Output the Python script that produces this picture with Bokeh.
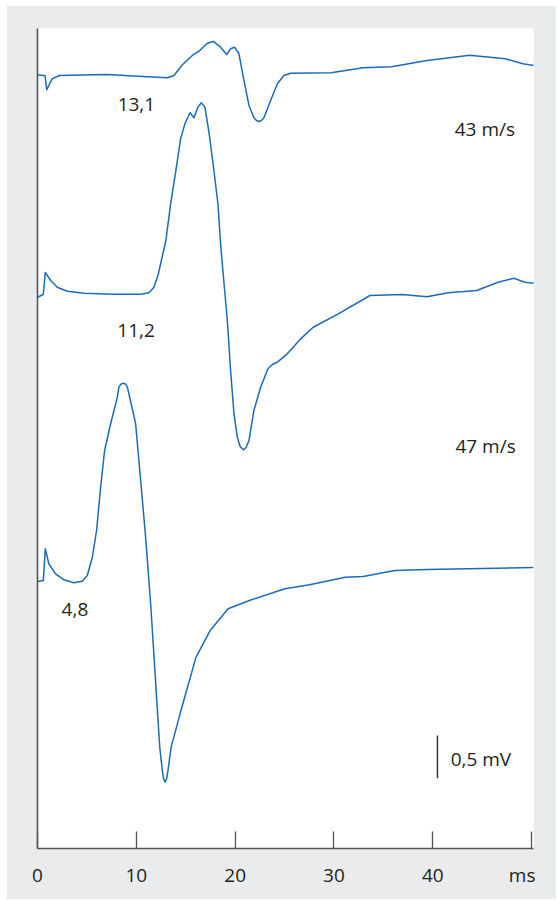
from bokeh.plotting import figure
from bokeh.models import Range1d, FixedTicker, ColumnDataSource, Spacer
from bokeh.layouts import row, column
from bokeh.core.properties import value
from bokeh.embed import file_html
from bokeh.resources import INLINE

# ---- data (time in ms, displayed amplitude in mV incl. trace offset) ----
t1 = [0.0, 0.76, 0.94, 1.48, 2.2, 7.05, 10.64, 13.14, 13.81, 14.66, 15.67, 16.34, 17.19, 17.79,
      18.53, 19.14, 19.54, 19.95, 20.38, 20.89, 21.40, 21.90, 22.16, 22.41, 22.66, 22.91, 23.59,
      24.27, 24.94, 25.62, 29.71, 32.94, 35.82, 39.41, 43.73, 47.32, 49.12, 50.74]
v1 = [9.07, 9.06, 8.895, 9.023, 9.062, 9.074, 9.05, 9.035, 9.062, 9.188, 9.297, 9.347, 9.441, 9.461,
      9.394, 9.308, 9.375, 9.394, 9.317, 9.004, 8.711, 8.566, 8.535, 8.523, 8.535, 8.566, 8.769,
      8.965, 9.062, 9.089, 9.094, 9.153, 9.164, 9.238, 9.30, 9.258, 9.20, 9.171]

t2 = [0.0, 0.59, 0.79, 1.33, 2.0, 3.02, 4.70, 7.73, 10.44, 11.28, 11.78, 12.19, 12.46, 12.99, 13.47,
      13.98, 14.48, 14.92, 15.43, 15.83, 16.23, 16.58, 16.94, 17.35, 17.79, 18.26, 18.55, 19.21,
      19.54, 19.88, 20.22, 20.50, 20.83, 21.11, 21.40, 21.90, 22.58, 23.32, 23.77, 24.27, 25.28,
      26.63, 27.90, 30.43, 33.65, 36.89, 39.41, 41.57, 44.44, 46.60, 48.22, 49.30, 50.49]
v2 = [6.463, 6.495, 6.753, 6.659, 6.58, 6.533, 6.51, 6.498, 6.498, 6.515, 6.58, 6.717, 6.855, 7.128,
      7.558, 7.929, 8.32, 8.496, 8.625, 8.566, 8.691, 8.742, 8.691, 8.398, 8.007, 7.558, 7.049, 6.19,
      5.604, 5.096, 4.822, 4.713, 4.674, 4.701, 4.783, 5.135, 5.408, 5.624, 5.674, 5.701, 5.799,
      5.975, 6.111, 6.268, 6.483, 6.495, 6.468, 6.515, 6.542, 6.639, 6.686, 6.639, 6.624]

t3 = [0.0, 0.59, 0.79, 1.15, 1.83, 2.67, 3.68, 4.53, 5.04, 5.55, 5.98, 6.39, 6.79, 7.40, 8.08, 8.24,
      8.46, 8.68, 8.90, 9.09, 9.25, 9.93, 10.44, 10.94, 11.45, 11.73, 12.37, 12.63, 12.76, 12.91,
      13.07, 13.20, 13.52, 14.61, 16.04, 17.48, 19.28, 21.44, 25.03, 27.54, 31.14, 32.94, 36.17,
      39.41, 50.19]
v3 = [3.13, 3.142, 3.513, 3.338, 3.22, 3.15, 3.115, 3.134, 3.20, 3.415, 3.728, 4.236, 4.666, 4.979,
      5.291, 5.408, 5.446, 5.455, 5.446, 5.408, 5.331, 4.979, 4.314, 3.65, 2.869, 2.36, 1.188, 0.914,
      0.82, 0.777, 0.82, 0.914, 1.188, 1.656, 2.243, 2.556, 2.81, 2.907, 3.045, 3.091, 3.181, 3.189,
      3.259, 3.271, 3.294]

latency_labels = ["13,1", "11,2", "4,8"]
latency_x = [8.11, 8.08, 2.44]
latency_y = [8.722, 6.069, 2.799]

velocity_labels = ["43 m/s", "47 m/s"]
velocity_x = [42.22, 42.29]
velocity_y = [8.433, 4.721]

scale_label = ["0,5 mV"]
scale_x = [41.81]
scale_y = [1.047]
scale_bar_x = [40.47]
scale_bar_y0 = [0.824]
scale_bar_y1 = [1.325]

x_ticks = [0, 10, 20, 30, 40, 50]
x_unit = "ms"

# ---- styling ----
BLUE = "#1a6bb8"
GREY_BG = "#eaebed"
AXIS = "#555555"
TXT = "#231f20"
FONT = "Open Sans"
FS = "19px"

p = figure(width=550, height=894, x_range=Range1d(0, 50.19), y_range=Range1d(0, 9.613),
           output_backend="svg", toolbar_location=None,
           min_border_left=31, min_border_right=23, min_border_top=23, min_border_bottom=51,
           background_fill_color="white", border_fill_color=GREY_BG, outline_line_color=None)
p.xgrid.visible = False
p.ygrid.visible = False

xa = p.xaxis[0]
xa.ticker = FixedTicker(ticks=x_ticks)
# unit label sits right-aligned under the last tick (padded so its right edge meets the tick)
xa.major_label_overrides = {50: x_unit + "\u2002\u2002"}
xa.minor_tick_line_color = None
xa.major_tick_in = 17
xa.major_tick_out = 0
xa.major_tick_line_color = AXIS
xa.major_tick_line_width = 1.3
xa.axis_line_color = AXIS
xa.axis_line_width = 1.6
xa.major_label_standoff = 13
xa.major_label_text_font = FONT
xa.major_label_text_font_size = FS
xa.major_label_text_color = TXT

ya = p.yaxis[0]
ya.ticker = FixedTicker(ticks=[])
ya.minor_tick_line_color = None
ya.major_tick_line_color = None
ya.axis_line_color = AXIS
ya.axis_line_width = 1.6
ya.major_label_text_font_size = "0px"

for t, v in ((t1, v1), (t2, v2), (t3, v3)):
    p.line(t, v, line_color=BLUE, line_width=1.5, line_join="round")

p.segment(x0=scale_bar_x, y0=scale_bar_y0, x1=scale_bar_x, y1=scale_bar_y1,
          line_color="#333333", line_width=1.5)

txt = ColumnDataSource(dict(x=latency_x + velocity_x + scale_x,
                            y=latency_y + velocity_y + scale_y,
                            text=latency_labels + velocity_labels + scale_label))
p.text(x="x", y="y", text="text", source=txt, text_font=value(FONT), text_font_size=FS,
       text_color=TXT, text_align="left", text_baseline="alphabetic")

layout = row(Spacer(width=6, height=899), column(Spacer(width=550, height=5), p))

open("out.html", "w").write(file_html(layout, INLINE))
